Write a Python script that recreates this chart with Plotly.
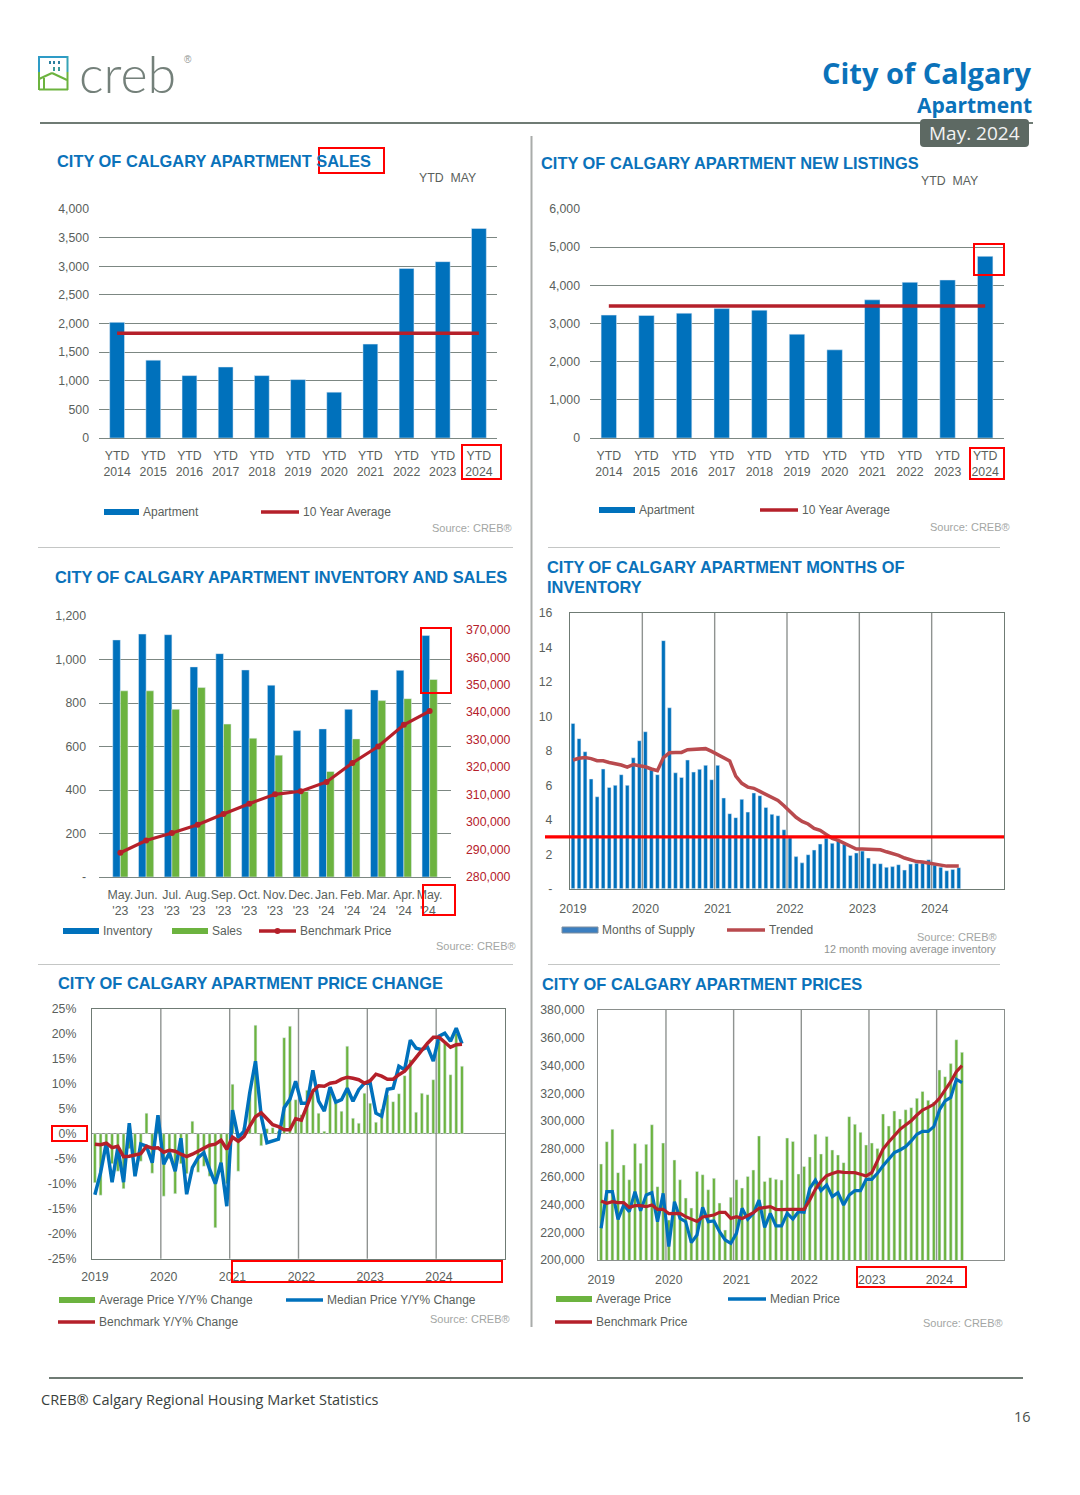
import plotly.graph_objects as go

W, H = 1080, 1495
BLUE = "#0071bc"
GREEN = "#6cb33f"
RED = "#b5202a"
GRID = "#7c8782"
TXT = "#5a5f5c"
FONT = "Liberation Sans"

# ---------- data ----------
ytd_years = ["2014", "2015", "2016", "2017", "2018", "2019", "2020", "2021", "2022", "2023", "2024"]
sales_ytd = [2020, 1360, 1090, 1240, 1090, 1020, 800, 1640, 2960, 3080, 3660]
sales_avg = 1830
listings_ytd = [3220, 3210, 3270, 3390, 3350, 2720, 2310, 3620, 4080, 4140, 4760]
listings_avg = 3460

inv_months = ["May.<br>'23", "Jun.<br>'23", "Jul.<br>'23", "Aug.<br>'23", "Sep.<br>'23", "Oct.<br>'23", "Nov.<br>'23",
              "Dec.<br>'23", "Jan.<br>'24", "Feb.<br>'24", "Mar.<br>'24", "Apr.<br>'24", "May.<br>'24 "]
inventory = [1090, 1117, 1114, 966, 1027, 952, 882, 673, 681, 771, 860, 950, 1110]
inv_sales = [856, 856, 771, 871, 703, 638, 560, 393, 485, 635, 811, 820, 908]
inv_benchmark = [288850, 293300, 296000, 299000, 302900, 306700, 310100, 311200, 314600, 321500, 327500, 335400, 340400]

year_labels = ["2019", "2020", "2021", "2022", "2023", "2024"]
mos_supply = [9.58, 8.7, 7.94, 6.36, 5.33, 6.94, 5.87, 5.99, 6.61, 5.99, 7.59, 8.58, 9.1, 6.88, 6.61, 14.38, 10.49,
              6.72, 6.45, 7.46, 6.76, 6.92, 7.15, 6.32, 7.15, 5.26, 4.35, 4.12, 5.18, 4.44, 5.55, 5.39, 4.71, 4.31,
              4.23, 3.42, 2.95, 1.86, 1.5, 1.97, 2.24, 2.59, 2.92, 2.63, 2.78, 2.57, 1.93, 2.07, 2.18, 1.78, 1.45,
              1.45, 1.24, 1.28, 1.39, 1.08, 1.43, 1.47, 1.49, 1.68, 1.37, 1.24, 1.04, 1.12, 1.22]
mos_trend = [7.46, 7.56, 7.6, 7.54, 7.42, 7.42, 7.32, 7.25, 7.17, 7.05, 7.2, 7.13, 7.07, 6.94, 6.84, 7.6, 7.88, 7.9,
             7.9, 8.06, 8.08, 8.13, 8.12, 7.96, 7.79, 7.61, 7.4, 6.53, 6.11, 5.89, 5.82, 5.64, 5.45, 5.31, 5.12, 4.81,
             4.46, 4.14, 3.9, 3.75, 3.5, 3.38, 3.15, 2.92, 2.8, 2.63, 2.43, 2.3, 2.3, 2.3, 2.3, 2.26, 2.14, 2.05, 1.93,
             1.78, 1.68, 1.57, 1.55, 1.49, 1.41, 1.33, 1.31, 1.31, 1.31]
mos_marker = 3

chg_avg = [-9.8, -12.3, -2.5, -6, -7.5, -11, -3, -4.5, -5.5, 4.1, -7.9, 2.5, -12.5, -5, -12, -6, -8, 2.5, -7.7, -6.5,
           -8.5, -18.8, -6, -10, 9.9, -7.5, 1.2, 8.3, 21.7, -2.4, 1, 1.2, 0.5, 19.2, 21.5, 6.8, 3.8, 8.7, 9, 4.1, 0.5,
           8.1, 6.1, 4.5, 17.5, 3.1, 2.1, 8.1, 6.1, 2.3, 4.9, 7.8, 6.4, 8, 11.6, 14.8, 4.3, 8.1, 7.8, 10.8, 18.5, 18.1,
           11.8, 20.1, 13.5]
chg_med = [-12.2, -7.8, -1.8, -9.7, -2.8, -9.7, 2.1, -8.5, -2.1, -2.5, -5.8, 3.7, -6.1, -3.8, -7.5, -0.9, -12.1, -6.8,
           -4.8, -3.8, -7.1, -10, -5.8, -14.5, 4.7, -0.8, 0.5, 8.2, 14.5, 3.5, -1.8, -1.5, -1.1, 5.2, 6.9, 10.5, 6.1,
           6.1, 12.7, 6.5, 4.5, 9.3, 6.3, 6.8, 9.1, 6.5, 8.8, 10.1, 10.1, 4.1, 3.5, 8.9, 9.1, 13.5, 12.8, 18.7, 17.1,
           16.8, 17.3, 14.5, 19.5, 20.1, 18.5, 21.1, 18]
chg_bench = [-2.1, -2.2, -1.9, -2.8, -2.5, -4.6, -4.5, -4.3, -4, -2.5, -2.9, -2.8, -3.7, -3.3, -3.5, -4.1, -4.6, -4.1,
             -3.5, -2.8, -2.3, -2.1, -1.3, -3.1, -0.7, -1.5, -0.6, 1.5, 3.4, 4.2, 3.1, 1.8, 1.4, 0.8, 0.8, 3, 2.7, 5.8,
             8.5, 9.6, 9.5, 10.1, 10.3, 10.9, 11.3, 11.1, 10.8, 10.1, 10.6, 11.9, 11.5, 10.9, 10.9, 11.8, 12.5, 13.8,
             15.3, 16.7, 18.1, 19.3, 19.3, 18.3, 17.3, 17.8, 17.9]

price_avg = [269100, 285200, 294100, 262900, 268400, 257800, 283800, 269600, 283300, 297400, 252800, 284200, 228800,
             272000, 257800, 244600, 237400, 263800, 261400, 250600, 258800, 241000, 221600, 245100, 257800, 251800,
             260200, 264800, 289300, 256600, 259300, 258100, 257600, 287800, 285400, 261900, 267400, 274200, 290500,
             276300, 289000, 279200, 275600, 270100, 303200, 297700, 291900, 282800, 284200, 280200, 305100, 296500,
             307300, 301500, 308200, 309700, 316400, 321400, 315000, 313800, 336800, 332000, 341400, 358600, 349500]
price_med = [222800, 249200, 249200, 229300, 239600, 234800, 249200, 235500, 246800, 248500, 227600, 248000, 209600,
             242000, 230000, 227600, 212500, 218000, 237900, 227600, 228100, 220400, 214400, 212000, 219200, 237200,
             229300, 233600, 243200, 223500, 233600, 224500, 224500, 233600, 229500, 234800, 234300, 251600, 257600,
             249900, 254000, 245600, 248500, 239600, 246800, 249900, 249900, 258100, 258100, 262400, 267900, 272500,
             277300, 279200, 281600, 285700, 290500, 292600, 292600, 296000, 308000, 314500, 317100, 330100, 327700]
price_bench = [242500, 240800, 242000, 241300, 241300, 237900, 239100, 239100, 238400, 239600, 236500, 236500, 233400,
               233400, 233600, 231200, 229800, 227800, 231000, 231900, 232400, 234300, 234300, 230000, 231200, 229800,
               231700, 234100, 237200, 237900, 238400, 236500, 236200, 236500, 236500, 236000, 236500, 243200, 250900,
               256600, 260700, 262200, 263600, 263100, 262900, 262900, 261700, 260500, 262900, 272000, 279900, 285000,
               290000, 294100, 297200, 300300, 304400, 308000, 309900, 312100, 316400, 322400, 328400, 335600, 339900]


# ---------- helpers ----------
def dom_x(l, r):
    return [l / W, r / W]


def dom_y(t, b):
    return [1 - b / H, 1 - t / H]


annos, shapes = [], []


def text(x, y, s, size=12.5, color=TXT, anchor="left", bold=False, font=FONT):
    annos.append(dict(x=x / W, y=1 - y / H, xref="paper", yref="paper", text=f"<b>{s}</b>" if bold else s,
                      showarrow=False, xanchor=anchor, yanchor="middle", borderpad=0,
                      font=dict(size=size, color=color, family=font)))


def seg(x0, y0, x1, y1, color, width=1.0):
    shapes.append(dict(type="line", xref="paper", yref="paper", x0=x0 / W, x1=x1 / W, y0=1 - y0 / H, y1=1 - y1 / H,
                       line=dict(color=color, width=width)))


def box(x0, y0, x1, y1, color="#ff0000", width=2, fill="rgba(0,0,0,0)"):
    shapes.append(dict(type="rect", xref="paper", yref="paper", x0=x0 / W, x1=x1 / W, y0=1 - y0 / H, y1=1 - y1 / H,
                       line=dict(color=color, width=width), fillcolor=fill))


def title(x, y, s):
    text(x, y, s, size=16.4, color="#0a72ba", bold=True)


def source(x, y, s="Source: CREB®"):
    text(x, y, s, size=11, color="#a3a6a4", anchor="right")


def legend_bar(x0, x1, y, color, label, edge=None):
    box(x0, y - 3, x1, y + 3, color=edge or color, width=1 if edge else 0, fill=color)
    text(x1 + 3, y, label, size=12, color=TXT)


def legend_line(x0, x1, y, color, label, width=3.5):
    seg(x0, y, x1, y, color, width)
    text(x1 + 3, y, label, size=12, color=TXT)


fig = go.Figure()

# ---------- chart 1: sales ----------
ytd_ticks = ["YTD<br>" + y for y in ytd_years]
fig.add_bar(x=ytd_ticks, y=sales_ytd, marker_color=BLUE, width=0.41, name="Apartment", xaxis="x", yaxis="y",
            showlegend=False)
fig.add_scatter(x=ytd_ticks, y=[sales_avg] * len(ytd_ticks), mode="lines", line=dict(color=RED, width=3.5),
                name="10 Year Average", xaxis="x", yaxis="y", showlegend=False)

# ---------- chart 2: new listings ----------
fig.add_bar(x=ytd_ticks, y=listings_ytd, marker_color=BLUE, width=0.41, name="Apartment", xaxis="x2", yaxis="y2",
            showlegend=False)
fig.add_scatter(x=ytd_ticks, y=[listings_avg] * len(ytd_ticks), mode="lines", line=dict(color=RED, width=3.5),
                name="10 Year Average", xaxis="x2", yaxis="y2", showlegend=False)

# ---------- chart 3: inventory and sales ----------
fig.add_bar(x=inv_months, y=inventory, marker_color=BLUE, name="Inventory", xaxis="x3", yaxis="y3", showlegend=False,
            offsetgroup="a")
fig.add_bar(x=inv_months, y=inv_sales, marker_color=GREEN, name="Sales", xaxis="x3", yaxis="y3", showlegend=False,
            offsetgroup="b")
fig.add_scatter(x=inv_months, y=inv_benchmark, mode="lines+markers", line=dict(color=RED, width=3.2),
                marker=dict(color=RED, size=6), name="Benchmark Price", xaxis="x3", yaxis="y7", showlegend=False)

# ---------- chart 4: months of inventory ----------
mos_x = list(range(len(mos_supply)))
fig.add_bar(x=mos_x, y=mos_supply, marker_color=BLUE, width=0.62, name="Months of Supply", xaxis="x4", yaxis="y4",
            showlegend=False)
fig.add_scatter(x=mos_x, y=mos_trend, mode="lines", line=dict(color="#b94a4e", width=3.5), name="Trended",
                xaxis="x4", yaxis="y4", showlegend=False)

# ---------- chart 5: price change ----------
chg_x = list(range(len(chg_avg)))
fig.add_bar(x=chg_x, y=chg_avg, marker_color=GREEN, width=0.5, name="Average Price Y/Y% Change", xaxis="x5",
            yaxis="y5", showlegend=False)
fig.add_scatter(x=chg_x, y=chg_med, mode="lines", line=dict(color=BLUE, width=3.5), name="Median Price Y/Y% Change",
                xaxis="x5", yaxis="y5", showlegend=False)
fig.add_scatter(x=chg_x, y=chg_bench, mode="lines", line=dict(color=RED, width=3.5), name="Benchmark Y/Y% Change",
                xaxis="x5", yaxis="y5", showlegend=False)

# ---------- chart 6: prices ----------
price_x = list(range(len(price_avg)))
fig.add_bar(x=price_x, y=price_avg, marker_color=GREEN, width=0.52, name="Average Price", xaxis="x6", yaxis="y6",
            showlegend=False)
fig.add_scatter(x=price_x, y=price_med, mode="lines", line=dict(color=BLUE, width=3.2), name="Median Price",
                xaxis="x6", yaxis="y6", showlegend=False)
fig.add_scatter(x=price_x, y=price_bench, mode="lines", line=dict(color=RED, width=3.2), name="Benchmark Price",
                xaxis="x6", yaxis="y6", showlegend=False)

# ---------- axes ----------
tf = dict(size=12.3, color=TXT, family=FONT)


def bar_yaxis(t, b, l, r, rng, vals, labels, standoff=10):
    return dict(domain=dom_y(t, b), anchor="free", position=l / W, range=rng, tickvals=vals, ticktext=labels,
                showgrid=True, gridcolor=GRID, gridwidth=1.3, zeroline=False, showline=False, ticks="",
                tickfont=tf, ticklabelstandoff=standoff)


sales_ticks = list(range(0, 4001, 500))
list_ticks = list(range(0, 6001, 1000))
inv_ticks = list(range(0, 1201, 200))
inv_tick_text = ["-"] + [f"{v:,}" for v in inv_ticks[1:]]
bench_ticks = list(range(280000, 370001, 10000))
mos_ticks = list(range(0, 17, 2))
mos_text = ["-"] + [str(v) for v in mos_ticks[1:]]
chg_ticks = list(range(-25, 26, 5))
price_ticks = list(range(200000, 380001, 20000))
year_ticks = [0, 12, 24, 36, 48, 60]
year_bounds = [11.5, 23.5, 35.5, 47.5, 59.5]
month_range = [-0.5, 71.5]

layout = dict(
    width=W, height=H, margin=dict(l=0, r=0, t=0, b=0, pad=0, autoexpand=False), paper_bgcolor="white",
    plot_bgcolor="white", font=dict(family=FONT, color=TXT), showlegend=False, bargap=0.41, bargroupgap=0,
    xaxis=dict(domain=dom_x(99, 497), anchor="y", tickfont=tf, showline=True, linecolor=GRID, linewidth=1.3,
               ticks="", showgrid=False, ticklabelstandoff=6, tickangle=0),
    yaxis=bar_yaxis(209, 438, 99, 497, [0, 4000], sales_ticks, [f"{v:,}" for v in sales_ticks]),
    xaxis2=dict(domain=dom_x(590, 1004), anchor="y2", tickfont=tf, showline=True, linecolor=GRID, linewidth=1.3,
                ticks="", showgrid=False, ticklabelstandoff=6, tickangle=0),
    yaxis2=bar_yaxis(209, 438, 590, 1004, [0, 6000], list_ticks, [f"{v:,}" for v in list_ticks]),
    xaxis3=dict(domain=dom_x(99, 451), anchor="y3", tickfont=tf, showline=True, linecolor=GRID, linewidth=1.3,
                ticks="", showgrid=False, ticklabelstandoff=6, tickangle=0),
    yaxis3=bar_yaxis(616, 877, 99, 451, [0, 1200], inv_ticks, inv_tick_text, standoff=13),
    yaxis7=dict(domain=dom_y(616, 877), overlaying="y3", side="right", anchor="x3", range=[280000, 375000],
                tickvals=bench_ticks, ticktext=[f"{v:,}" for v in bench_ticks], showgrid=False, zeroline=False,
                showline=False, ticks="", tickfont=dict(size=12.3, color="#b5202a", family=FONT),
                ticklabelstandoff=14),
    xaxis4=dict(domain=dom_x(570, 1004), anchor="y4", range=month_range, tickvals=year_ticks, ticktext=year_labels,
                tickfont=tf, showline=True, mirror=True, linecolor="#6f7b74", linewidth=1.3, ticks="",
                showgrid=False, ticklabelstandoff=8, tickangle=0),
    yaxis4=dict(domain=dom_y(612.7, 888.7), anchor="x4", range=[0, 16], tickvals=mos_ticks, ticktext=mos_text,
                showline=True, mirror=True, linecolor="#6f7b74", linewidth=1.3, showgrid=False, zeroline=False,
                ticks="", tickfont=tf, ticklabelstandoff=14),
    xaxis5=dict(domain=dom_x(92, 505), anchor="y5", range=month_range, tickvals=year_ticks, ticktext=year_labels,
                tickfont=tf, showline=True, mirror=True, linecolor="#6f7b74", linewidth=1.3, ticks="",
                showgrid=False, ticklabelstandoff=6, tickangle=0),
    yaxis5=dict(domain=dom_y(1008.7, 1258.7), anchor="x5", range=[-25, 25], tickvals=chg_ticks,
                ticktext=[f"{v}%" for v in chg_ticks], showline=True, mirror=True, linecolor="#6f7b74",
                linewidth=1.3, showgrid=False, zeroline=True, zerolinecolor="#8a8f8c", zerolinewidth=1.3, ticks="",
                tickfont=tf, ticklabelstandoff=12),
    xaxis6=dict(domain=dom_x(598.3, 1004.3), anchor="y6", range=month_range, tickvals=year_ticks,
                ticktext=year_labels, tickfont=tf, showline=True, mirror=True, linecolor="#8a8f8c", linewidth=1.3,
                ticks="", showgrid=False, ticklabelstandoff=8, tickangle=0),
    yaxis6=dict(domain=dom_y(1010, 1260), anchor="x6", range=[200000, 380000], tickvals=price_ticks,
                ticktext=[f"{v:,}" for v in price_ticks], showline=True, mirror=True, linecolor="#8a8f8c",
                linewidth=1.3, showgrid=False, zeroline=False, ticks="", tickfont=tf, ticklabelstandoff=10),
)

# year separators of the three monthly panels
for ax in ("4", "5", "6"):
    for b in year_bounds:
        shapes.append(dict(type="line", xref=f"x{ax}", yref=f"y{ax} domain", x0=b, x1=b, y0=0, y1=1, layer="below",
                           line=dict(color="#8f9391", width=1.4)))
# months-of-inventory reference line
shapes.append(dict(type="line", xref="paper", yref="y4", x0=545 / W, x1=1004 / W, y0=mos_marker, y1=mos_marker,
                   line=dict(color="#ff0000", width=3.2)))

# ---------- page furniture ----------
seg(40, 123, 1033, 123, "#6f7b74", 2)
seg(531.5, 136, 531.5, 1327, "#a9acaa", 2)
seg(38, 547.5, 513, 547.5, "#c4c6c5", 1)
seg(548, 547.5, 1000, 547.5, "#c4c6c5", 1)
seg(38, 964.5, 513, 964.5, "#c4c6c5", 1)
seg(548, 964.5, 1000, 964.5, "#c4c6c5", 1)
seg(49, 1378, 1023, 1378, "#6f7b74", 2)

# logo
seg(39, 57, 68, 57, "#2e9bc6", 2)
seg(39, 56, 39, 72, "#2e9bc6", 2)
seg(67.5, 56, 67.5, 72, "#37a4b6", 2)
seg(39, 72, 39, 90, "#6cb33f", 2)
seg(67.5, 72, 67.5, 90, "#6cb33f", 2)
seg(39, 89.5, 68, 89.5, "#6cb33f", 2)
for wx in (49, 53, 58):
    box(wx, 61, wx + 2, 64, color="#2a7f9f", width=0, fill="#2a7f9f")
for wx in (53, 58):
    box(wx, 67, wx + 2, 71, color="#3c9a9a", width=0, fill="#3c9a9a")
seg(39, 79, 52, 73, "#6cb33f", 2)
seg(52, 73, 67, 80, "#6cb33f", 2)
seg(44, 78, 44, 89, "#6cb33f", 2)
text(78, 73, "creb", size=52, color="#74807a", font="Lato Light, Lato")
text(188, 60, "®", size=10, color="#8f9692", anchor="center")

text(1033, 72, "City of Calgary", size=29, color="#0a72ba", anchor="right", bold=True, font="Open Sans")
text(1033, 105, "Apartment", size=21, color="#0a72ba", anchor="right", bold=True, font="Open Sans")
shapes.append(dict(type="path", xref="paper", yref="paper",
                   path=f"M {924 / W} {1 - 119 / H} L {1025 / W} {1 - 119 / H} Q {1029 / W} {1 - 119 / H} {1029 / W} {1 - 123 / H} "
                        f"L {1029 / W} {1 - 143 / H} Q {1029 / W} {1 - 147 / H} {1025 / W} {1 - 147 / H} L {924 / W} {1 - 147 / H} "
                        f"Q {920 / W} {1 - 147 / H} {920 / W} {1 - 143 / H} L {920 / W} {1 - 123 / H} Q {920 / W} {1 - 119 / H} {924 / W} {1 - 119 / H} Z",
                   fillcolor="#5d6963", line=dict(width=0)))
text(974.5, 133, "May. 2024", size=19, color="#f2f2f2", anchor="center", font="Open Sans")

text(40, 1399, "CREB® Calgary Regional Housing Market Statistics", size=14.5, color="#3a3f3c", font="Open Sans")
text(1032, 1416, "16", size=14.5, color="#4a4f4c", anchor="right", font="Open Sans")

# titles and captions
title(56, 161, "CITY OF CALGARY APARTMENT SALES")
text(418, 178, "YTD  MAY", size=12.3)
title(540, 163, "CITY OF CALGARY APARTMENT NEW LISTINGS")
text(920, 181, "YTD  MAY", size=12.3)
title(54, 577, "CITY OF CALGARY APARTMENT INVENTORY AND SALES")
title(546, 567, "CITY OF CALGARY APARTMENT MONTHS OF")
title(546, 587, "INVENTORY")
title(57, 983, "CITY OF CALGARY APARTMENT PRICE CHANGE")
title(541, 984, "CITY OF CALGARY APARTMENT PRICES")

# legends
legend_bar(104, 139, 512, BLUE, "Apartment")
legend_line(261, 299, 512, RED, "10 Year Average")
source(513, 528)
legend_bar(599, 635, 510, BLUE, "Apartment")
legend_line(760, 798, 510, RED, "10 Year Average")
source(1011, 527)
legend_bar(63, 99, 931, BLUE, "Inventory")
legend_bar(172, 208, 931, GREEN, "Sales")
legend_line(259, 296, 931, RED, "Benchmark Price")
shapes.append(dict(type="circle", xref="paper", yref="paper", x0=274.5 / W, x1=280.5 / W, y0=1 - 934 / H, y1=1 - 928 / H,
                   fillcolor=RED, line=dict(width=0)))
source(517, 946)
legend_bar(562, 598, 930, "#3c7fc0", "Months of Supply", edge="#7f8f9f")
legend_line(727, 765, 930, "#b94a4e", "Trended")
source(998, 937)
text(997, 949, "12 month moving average inventory", size=10.8, color="#8f9391", anchor="right")
legend_bar(59, 95, 1300, GREEN, "Average Price Y/Y% Change")
legend_line(286, 323, 1300, BLUE, "Median Price Y/Y% Change")
legend_line(58, 95, 1322, RED, "Benchmark Y/Y% Change")
source(511, 1319)
legend_bar(556, 592, 1299, GREEN, "Average Price")
legend_line(728, 766, 1299, BLUE, "Median Price")
legend_line(555, 592, 1322, RED, "Benchmark Price")
source(1004, 1323)

# red highlight boxes
for b in [(319, 148, 384, 173), (462, 445, 501, 479), (974, 244, 1004, 275), (970, 448, 1004, 479),
          (421, 628, 451, 693), (423, 885, 455, 915), (52, 1126, 87, 1141), (232, 1261, 502, 1282),
          (857, 1267, 966, 1287)]:
    box(*b)

layout["annotations"] = annos
layout["shapes"] = shapes
fig.update_layout(**layout)
fig.update_xaxes(automargin=False)
fig.update_yaxes(automargin=False)
fig.write_html("out.html", config={"displayModeBar": False},
               post_script="document.body.style.margin='0';document.documentElement.style.overflow='hidden';")
